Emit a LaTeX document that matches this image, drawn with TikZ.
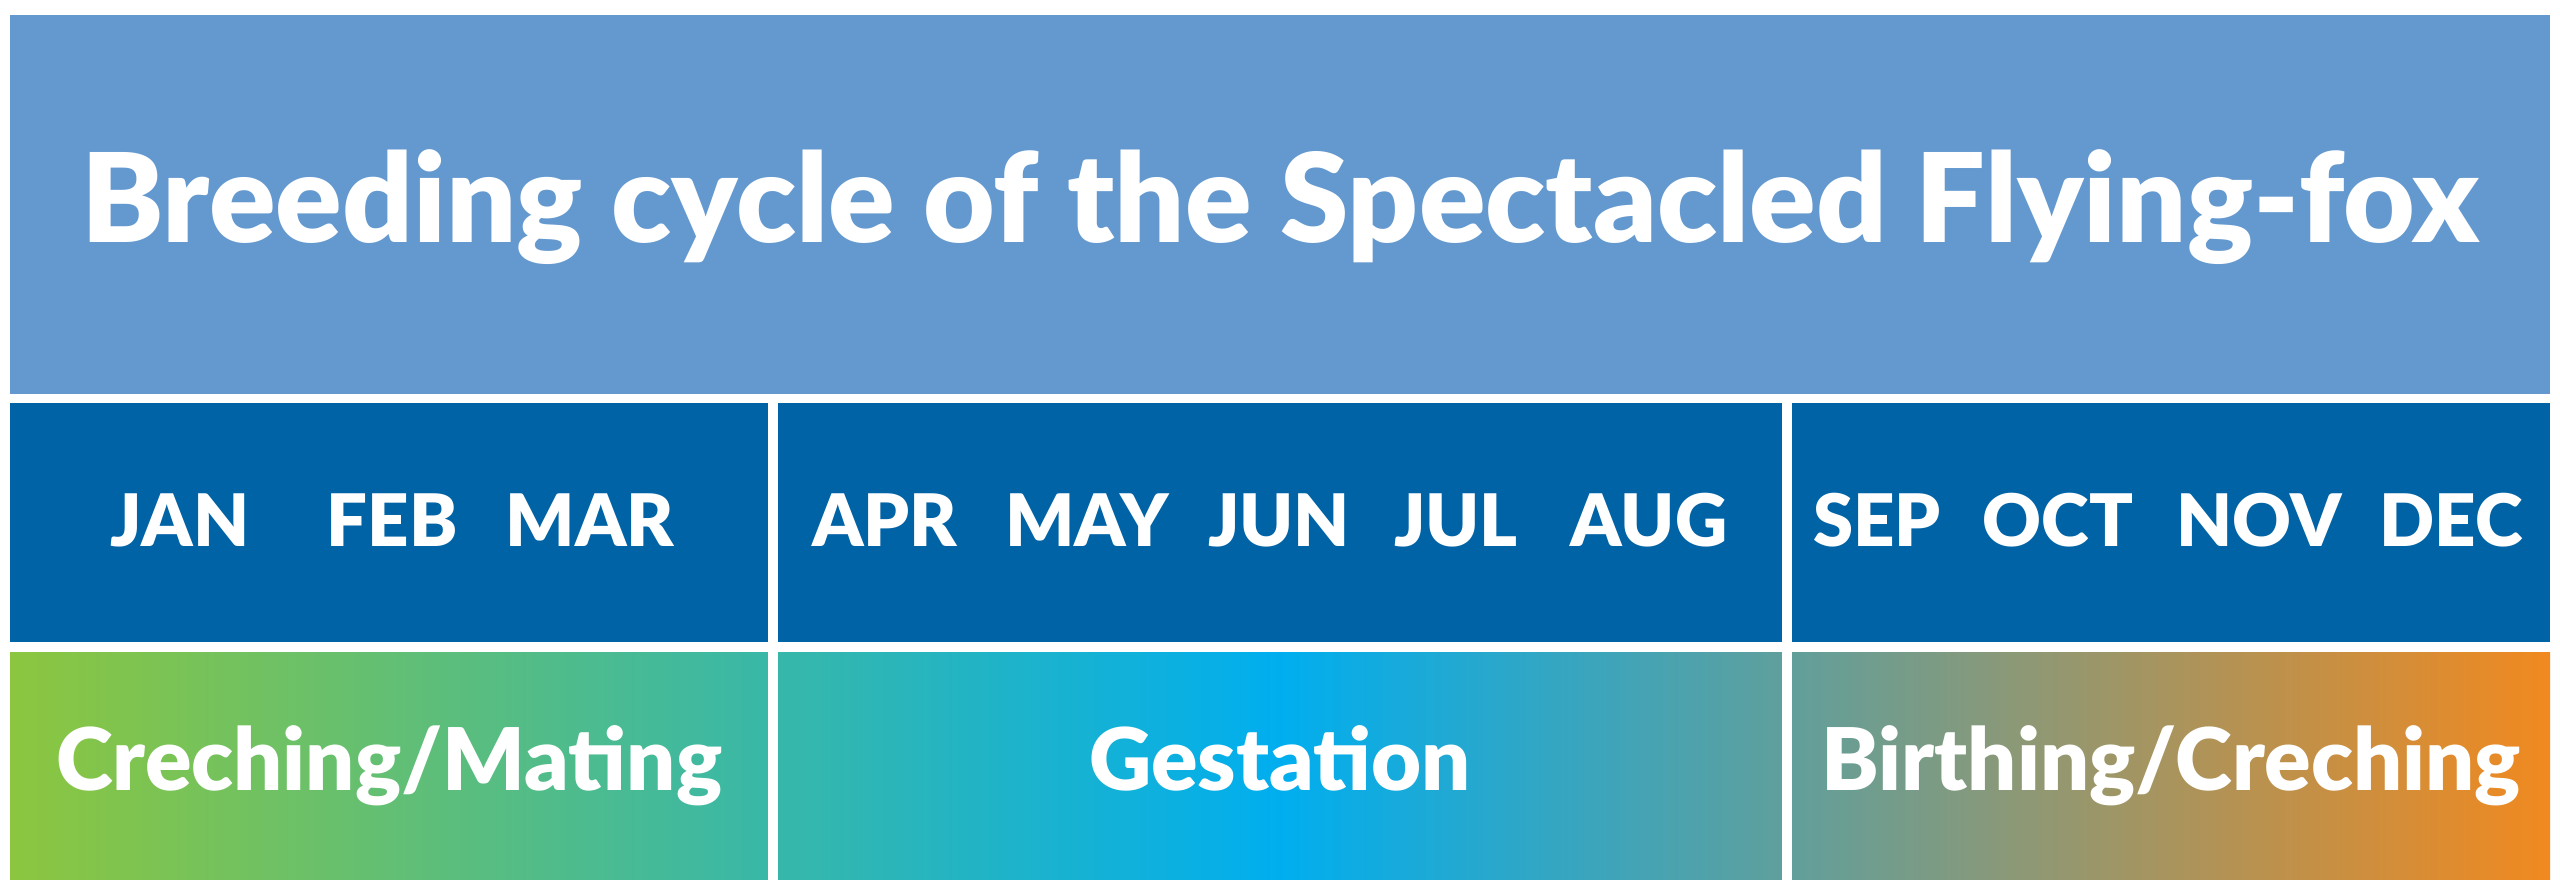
\documentclass[tikz,border=0pt]{standalone}
\usepackage{fontspec}
\newfontfamily\lblack{Lato Black}
\definecolor{titleblue}{RGB}{100,153,208}
\definecolor{monthblue}{RGB}{0,99,166}
\definecolor{gstart}{RGB}{140,198,63}
\definecolor{gmid}{RGB}{0,174,239}
\definecolor{gend}{RGB}{241,137,31}
\tikzset{
  titlebox/.style={fill=titleblue, draw=none, minimum width=635pt, minimum height=94.75pt, inner sep=0pt},
  monthbox/.style={fill=monthblue, draw=none, minimum height=59.75pt, inner sep=0pt},
  titletext/.style={text=white, font=\lblack\fontsize{30.9}{36}\selectfont, anchor=base, inner sep=0pt},
  monthtext/.style={text=white, font=\lblack\fontsize{18.1}{22}\selectfont, anchor=base, inner sep=0pt},
  phasetext/.style={text=white, font=\lblack\fontsize{21.6}{26}\selectfont, anchor=base, inner sep=0pt},
}
\begin{document}
\begin{tikzpicture}[x=0.25pt,y=-0.25pt]
\useasboundingbox (0,0) rectangle (2560,891);
\fill[white] (0,0) rectangle (2560,891);
% title
\node[titlebox] (titlebg) at (1280,204.5) {};
\node[titletext] (title) at (1280,242) {Breeding cycle of the Spectacled Flying-fox};
% month row
\node[monthbox, minimum width=189.5pt] (m1) at (389,522.5) {};
\node[monthbox, minimum width=251pt] (m2) at (1280,522.5) {};
\node[monthbox, minimum width=189.5pt] (m3) at (2171,522.5) {};
\node[monthtext] (jan) at (180,546) {JAN};
\node[monthtext] (feb) at (392,546) {FEB};
\node[monthtext] (mar) at (590,546) {MAR};
\node[monthtext] (apr) at (885,546) {APR};
\node[monthtext] (may) at (1087,546) {MAY};
\node[monthtext] (jun) at (1279,546) {JUN};
\node[monthtext] (jul) at (1456,546) {JUL};
\node[monthtext] (aug) at (1649,546) {AUG};
\node[monthtext] (sep) at (1877,546) {SEP};
\node[monthtext] (oct) at (2058,546) {OCT};
\node[monthtext] (nov) at (2259,546) {NOV};
\node[monthtext] (dec) at (2451,546) {DEC};
% phase row
\shade[left color=gstart, right color=gend, middle color=gmid] (10,652) rectangle (2550,879);
\fill[white] (768,650) rectangle (778,881);
\fill[white] (1782,650) rectangle (1792,881);
\node[phasetext] (p1) at (389,790) {Creching/Mating};
\node[phasetext] (p2) at (1280,790) {Gestation};
\node[phasetext] (p3) at (2171,790) {Birthing/Creching};
\end{tikzpicture}
\end{document}
